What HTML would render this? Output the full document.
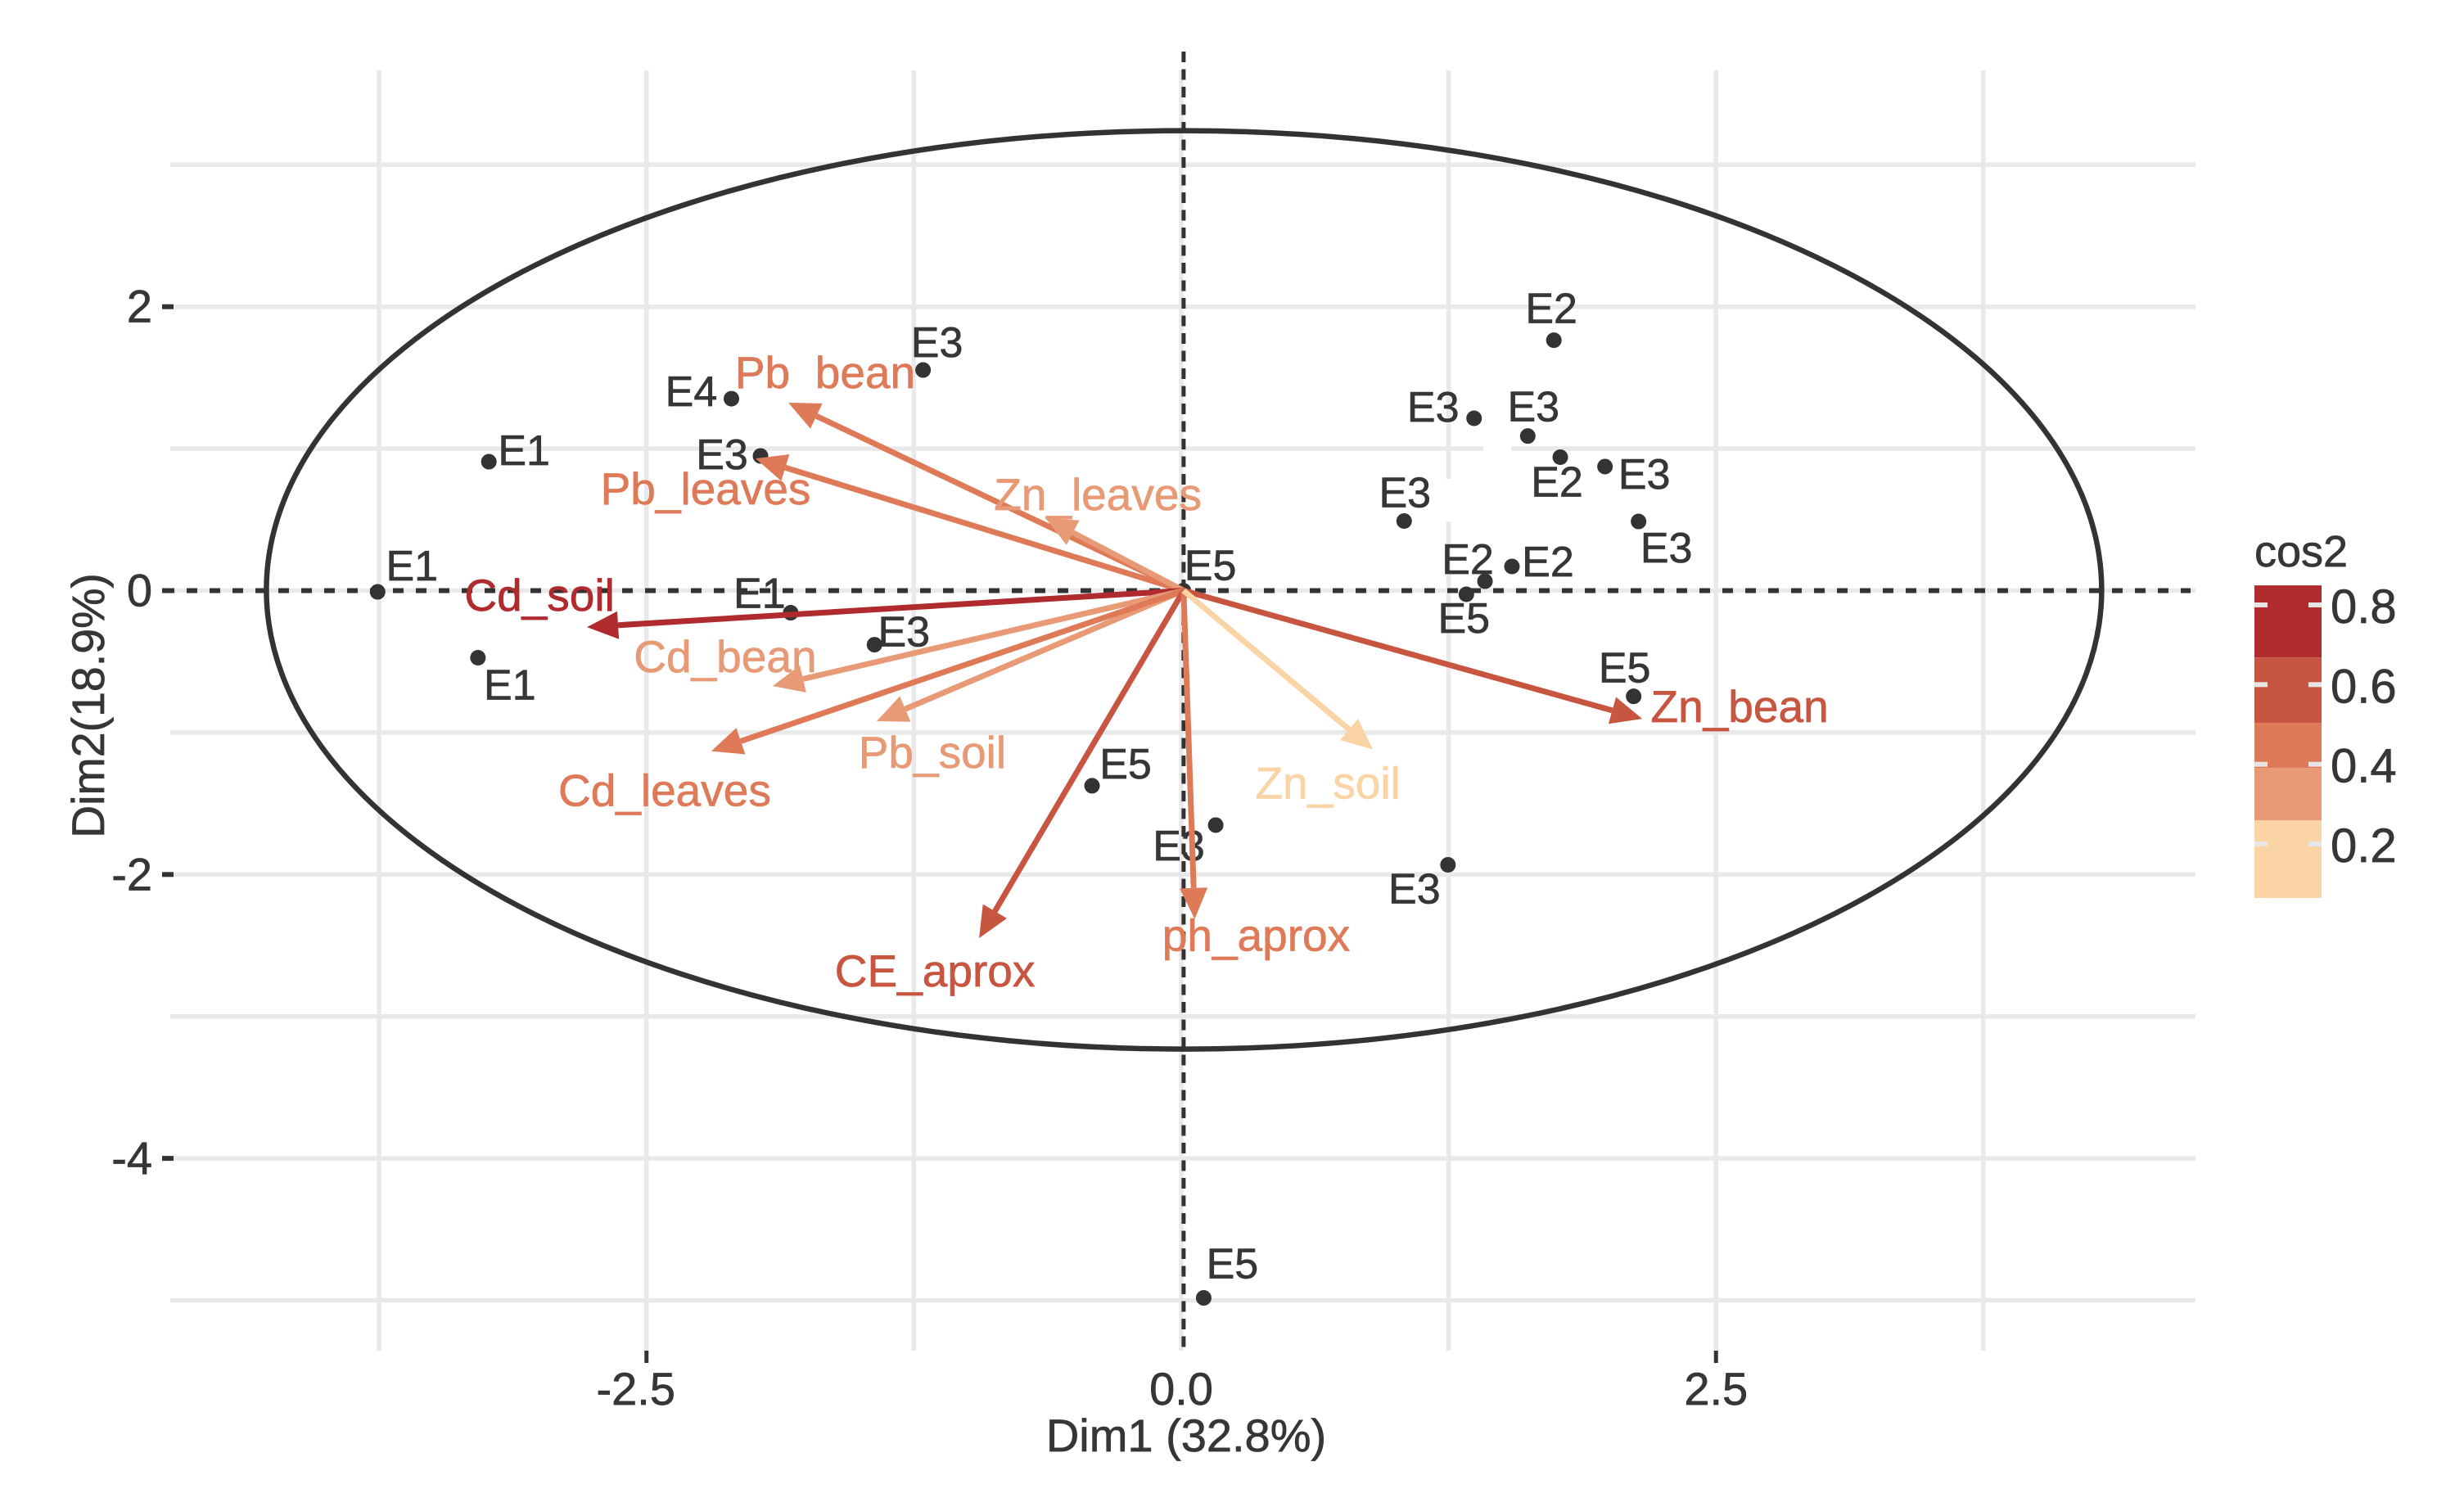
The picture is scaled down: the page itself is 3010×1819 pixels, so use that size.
<!DOCTYPE html>
<html lang="en">
<head>
<meta charset="utf-8">
<title>PCA biplot</title>
<style>
html,body{margin:0;padding:0;background:#fff;}
svg{display:block;font-family:"Liberation Sans",Arial,sans-serif;}
text{stroke-width:0.7px;paint-order:stroke;}
</style>
</head>
<body>
<svg id="chart" xmlns="http://www.w3.org/2000/svg" width="3010" height="1819" viewBox="0 0 3010 1819"></svg>
<script>
// ---- data ----
const xMajorTicks = [-2.5, 0, 2.5];
const xTickLabels = ["-2.5", "0.0", "2.5"];
const xMinorGrid = [-3.75, -1.25, 1.25, 3.75];
const yMajorTicks = [2, 0, -2, -4];
const yTickLabels = ["2", "0", "-2", "-4"];
const yMinorGrid = [3, 1, -1, -3, -5];

const pointNames = ["E3","E4","E3","E1","E1","E1","E3","E1","E2","E3","E3","E2","E3","E3","E3","E2","E2","E5","E5","E5","E3","E5","E3","E5"];
const pointX = [-1.207,-2.103,-1.967,-3.237,-3.757,-1.826,-1.434,-3.288,1.742,1.369,1.620,1.772,1.981,1.042,2.138,1.546,1.420,1.333,2.115,-0.417,0.161,0.105,1.247,0.01];
const pointY = [1.554,1.352,0.949,0.908,-0.009,-0.156,-0.381,-0.473,1.764,1.214,1.089,0.940,0.874,0.490,0.487,0.170,0.066,-0.026,-0.745,-1.375,-1.652,-4.983,-1.932,0];

const varNames = ["Pb_bean","Pb_leaves","Zn_leaves","Cd_soil","Cd_bean","Pb_soil","Cd_leaves","CE_aprox","ph_aprox","Zn_bean","Zn_soil"];
const varX = [-1.837,-1.990,-0.635,-2.778,-1.910,-1.424,-2.197,-0.945,0.063,2.155,0.896];
const varY = [1.324,0.931,0.510,-0.257,-0.672,-0.920,-1.131,-2.448,-2.314,-0.903,-1.119];
const varCos2 = [0.45,0.45,0.35,0.75,0.35,0.33,0.45,0.62,0.45,0.60,0.15];

const legendBreaks = [0.8,0.6,0.4,0.2];
const legendBreakLabels = ["0.8","0.6","0.4","0.2"];
const legendEdges = [0.849,0.668,0.504,0.391,0.259,0.0645];
const legendColors = ["#B02B2E","#C85540","#DF7A59","#E89A76","#FBD4A6"];

// ---- layout (label nudges from the mark, not data) ----
const pointLabelNudge = [[17,-16],[-49,9],[-47,16],[43,4],[42,-14],[-38,-6],[36,2],[39,51],[-3,-21],[-50,4],[7,-18],[-4,48],[48,27],[1,-17],[34,50],[44,12],[-21,-9],[-3,47],[-11,-17],[41,-9],[-45,43],[35,-24],[-41,47],[33,-13]];
const varLabelNudge = [[45,-18],[-61,56],[64,-10],[-58,-20],[-58,-17],[68,57],[-57,67],[-54,59],[75,39],[119,4],[-55,60]];

// ---- scales ----
const x = v => 1443 + 261.3 * v;
const y = v => 721.5 - 173.4 * v;
const legendY = v => 1031 - (v - 0.2) * 486.7;
const PANEL = {left:208, right:2682, top:86, bottom:1650};
const GRID = "#E9E9E9", INK = "#333333", LABEL = "#363636";
const circleRx = 4.29, circleRy = 3.235;

const svg = document.getElementById('chart');
const NS = 'http://www.w3.org/2000/svg';
function make(tag, attrs, text){
  const n = document.createElementNS(NS, tag);
  for (const k in attrs) n.setAttribute(k, attrs[k]);
  if (text !== undefined) {
    n.textContent = text;
    if (!n.getAttribute('stroke')) n.setAttribute('stroke', attrs.fill);
  }
  svg.appendChild(n);
  return n;
}
function cos2Color(v){
  for (let i = 0; i < legendColors.length; i++) {
    if (v >= legendEdges[i + 1]) return legendColors[i];
  }
  return legendColors[legendColors.length - 1];
}
let el;

// grid
xMinorGrid.concat(xMajorTicks).forEach(v => {
  el = make('line', {x1:x(v), x2:x(v), y1:PANEL.top, y2:PANEL.bottom, stroke:GRID, 'stroke-width':5.5});
  
  
});
yMinorGrid.concat(yMajorTicks).forEach(v => {
  el = make('line', {x1:PANEL.left, x2:PANEL.right, y1:y(v), y2:y(v), stroke:GRID, 'stroke-width':5.5});
  
  
});

// small erased patches on the grid in the reference
el = make('rect', {x:1812, y:540, width:34, height:18, fill:'#fff'});


el = make('rect', {x:1762, y:585, width:12, height:52, fill:'#fff'});



// correlation circle
el = make('ellipse', {cx:x(0.013), cy:y(0.005), rx:circleRx*261.3, ry:circleRy*173.4, fill:'none', stroke:INK, 'stroke-width':6.5});



// reference lines
el = make('line', {x1:200, x2:2676, y1:y(0), y2:y(0), stroke:INK, 'stroke-width':6, 'stroke-dasharray':'13 15'});


el = make('line', {x1:x(0.011), x2:x(0.011), y1:63, y2:1654, stroke:INK, 'stroke-width':5, 'stroke-dasharray':'13 8.5'});



// axis ticks and labels
xMajorTicks.forEach((v, i) => {
  if (v !== 0) {
    el = make('line', {x1:x(v), x2:x(v), y1:1650, y2:1665, stroke:INK, 'stroke-width':5});
    
    
  }
  el = make('text', {x:x(v) - (v < 0 ? 13 : 0), y:1716, 'text-anchor':'middle', 'font-size':56, fill:LABEL}, xTickLabels[i]);
  
  
});
yMajorTicks.forEach((v, i) => {
  el = make('line', {x1:198, x2:212, y1:y(v), y2:y(v), stroke:INK, 'stroke-width':6});
  
  
  el = make('text', {x:186, y:y(v) + 19, 'text-anchor':'end', 'font-size':56, fill:LABEL}, yTickLabels[i]);
  
  
});
el = make('text', {x:1449, y:1773, 'text-anchor':'middle', 'font-size':56, fill:LABEL}, 'Dim1 (32.8%)');


el = make('text', {x:0, y:0, transform:'translate(127,862) rotate(-90)', 'text-anchor':'middle', 'font-size':55.5, fill:LABEL}, 'Dim2(18.9%)');



// individuals
pointNames.forEach((name, i) => {
  const px = x(pointX[i]), py = y(pointY[i]);
  el = make('circle', {cx:px, cy:py, r:9.5, fill:INK});
  
  
  el = make('text', {x:px + pointLabelNudge[i][0], y:py + pointLabelNudge[i][1], 'text-anchor':'middle', 'font-size':52, fill:LABEL}, name);
  
  
});

// variable arrows
varNames.forEach((name, i) => {
  const color = cos2Color(varCos2[i]);
  const ox = x(0.011), oy = y(0);
  const tx = x(varX[i]), ty = y(varY[i]);
  const d = Math.hypot(tx - ox, ty - oy) || 1;
  const ux = (tx - ox) / d, uy = (ty - oy) / d;
  const bx = tx - ux * 38, by = ty - uy * 38;
  el = make('line', {x1:ox, y1:oy, x2:bx, y2:by, stroke:color, 'stroke-width':7});
  
  
  const pts = [[tx, ty], [bx - uy * 17, by + ux * 17], [bx + uy * 17, by - ux * 17]].map(p => p.join(',')).join(' ');
  el = make('polygon', {points:pts, fill:color});
  
  
});
varNames.forEach((name, i) => {
  const color = cos2Color(varCos2[i]);
  el = make('text', {x:x(varX[i]) + varLabelNudge[i][0], y:y(varY[i]) + varLabelNudge[i][1], 'text-anchor':'middle', 'font-size':55, fill:color}, name);
  
  
});

// the underscore of Pb_bean is washed out in the reference
el = make('rect', {x:963, y:478, width:36, height:10, fill:'#fff'});



// legend
el = make('text', {x:2754, y:692, 'font-size':54, fill:LABEL}, 'cos2');


legendColors.forEach((c, i) => {
  const top = legendY(legendEdges[i]), bottom = legendY(legendEdges[i + 1]);
  el = make('rect', {x:2754, y:top, width:82, height:bottom - top, fill:c});
  
  
});
legendBreaks.forEach((v, i) => {
  const ly = legendY(v);
  el = make('line', {x1:2754, x2:2770, y1:ly, y2:ly, stroke:'#E6E6E6', 'stroke-width':6});
  
  
  el = make('line', {x1:2820, x2:2836, y1:ly, y2:ly, stroke:'#E6E6E6', 'stroke-width':6});
  
  
  el = make('text', {x:2847, y:ly + 22, 'font-size':58, fill:LABEL}, legendBreakLabels[i]);
  
  
});
</script>
</body>
</html>
